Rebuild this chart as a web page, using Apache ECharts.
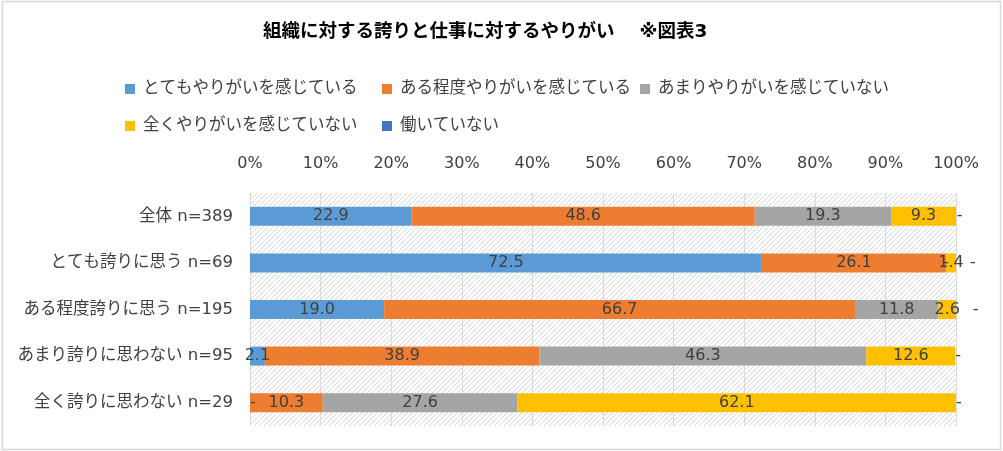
<!DOCTYPE html>
<html>
<head>
<meta charset="utf-8">
<script src="https://cdn.jsdelivr.net/npm/echarts@6/dist/echarts.min.js"></script>
<style>
html,body{margin:0;padding:0;background:#fff;}
#c{width:1003px;height:451px;}
</style>
</head>
<body>
<div id="c"></div>
<script>
// ---- data ----
const categories = ['全体 n=389', 'とても誇りに思う n=69', 'ある程度誇りに思う n=195', 'あまり誇りに思わない n=95', '全く誇りに思わない n=29'];
const seriesNames = ['とてもやりがいを感じている', 'ある程度やりがいを感じている', 'あまりやりがいを感じていない', '全くやりがいを感じていない', '働いていない'];
const veryMuch = [22.9, 72.5, 19.0, 2.1, 0];
const somewhat = [48.6, 26.1, 66.7, 38.9, 10.3];
const notMuch = [19.3, 0, 11.8, 46.3, 27.6];
const notAtAll = [9.3, 1.4, 2.6, 12.6, 62.1];
const notWorking = [0, 0, 0, 0, 0];
const xTicks = [0, 10, 20, 30, 40, 50, 60, 70, 80, 90, 100];
const title = '組織に対する誇りと仕事に対するやりがい　 ※図表3';

// ---- styles ----
const colors = ['#5B9BD5', '#ED7D31', '#A5A5A5', '#FFC000', '#4472C4'];
const FONT = "'DejaVu Sans', 'Noto Sans CJK JP', sans-serif";
const TXT = '#404040';

// hatch pattern
const tile = document.createElement('canvas');
tile.width = 5; tile.height = 5;
const g = tile.getContext('2d');
g.fillStyle = '#ffffff'; g.fillRect(0, 0, 5, 5);
g.strokeStyle = '#d6d6d6'; g.lineWidth = 1;
g.beginPath();
g.moveTo(-1, 6); g.lineTo(6, -1);
g.moveTo(-1, 1); g.lineTo(1, -1);
g.moveTo(4, 6); g.lineTo(6, 4);
g.stroke();

const allData = [veryMuch, somewhat, notMuch, notAtAll, notWorking];
// label distances for the zero-value dashes of the last series (per row)
const lastDashDist = [0, 14, 16, 0, 0];

const series = allData.map((arr, si) => ({
  name: seriesNames[si],
  type: 'bar',
  stack: 'total',
  barWidth: 19,
  clip: si === 4 ? false : true,
  itemStyle: { color: colors[si] },
  label: {
    show: true,
    position: 'inside',
    color: TXT,
    fontSize: 16,
    fontFamily: FONT,
    formatter: p => (p.value === 0 ? '-' : p.value.toFixed(1))
  },
  labelLayout: { hideOverlap: false },
  emphasis: { disabled: true },
  data: arr.map((v, i) => {
    if (v === 0) {
      let dist = si === 4 ? lastDashDist[i] : (si === 0 ? 0 : -3);
      return { value: v, label: { position: 'right', distance: dist } };
    }
    return v;
  })
}));

const legendPos = [
  { left: 125, top: 79 },
  { left: 382, top: 79 },
  { left: 640, top: 79 },
  { left: 125, top: 116 },
  { left: 382, top: 116 }
];
const legends = seriesNames.map((n, i) => ({
  data: [n],
  left: legendPos[i].left,
  top: legendPos[i].top,
  padding: 0,
  itemWidth: 10,
  itemHeight: 10,
  itemGap: 0,
  icon: 'rect',
  selectedMode: false,
  textStyle: { color: TXT, fontSize: 16.5, fontFamily: FONT, padding: [0, 0, 0, 3], lineHeight: 20 }
}));

const chart = echarts.init(document.getElementById('c'), null, { renderer: 'canvas' });
chart.setOption({
  animation: false,
  title: {
    text: title,
    left: 263,
    top: 23,
    padding: 0,
    textStyle: { fontSize: 18.5, fontWeight: 'bold', color: '#000', fontFamily: FONT }
  },
  legend: legends,
  grid: {
    left: 250, right: 47, top: 193, bottom: 25,
    show: true,
    borderWidth: 0,
    backgroundColor: { image: tile, repeat: 'repeat' }
  },
  xAxis: {
    type: 'value',
    position: 'top',
    min: xTicks[0],
    max: xTicks[xTicks.length - 1],
    interval: xTicks[1] - xTicks[0],
    axisLine: { show: false },
    axisTick: { show: false },
    axisLabel: { formatter: '{value}%', color: TXT, fontSize: 16, fontFamily: FONT, margin: 21 },
    splitLine: { show: true, lineStyle: { color: '#d9d9d9', width: 1 } }
  },
  yAxis: {
    type: 'category',
    inverse: true,
    data: categories,
    axisLine: { show: false },
    axisTick: { show: false },
    axisLabel: { color: TXT, fontSize: 16.5, fontFamily: FONT, margin: 17 }
  },
  graphic: [{
    type: 'rect',
    shape: { x: 2.5, y: 1.5, width: 998, height: 448 },
    style: { fill: 'none', stroke: '#d9d9d9', lineWidth: 1.5 },
    silent: true, z: 100
  }],
  series: series
});
</script>
</body>
</html>
